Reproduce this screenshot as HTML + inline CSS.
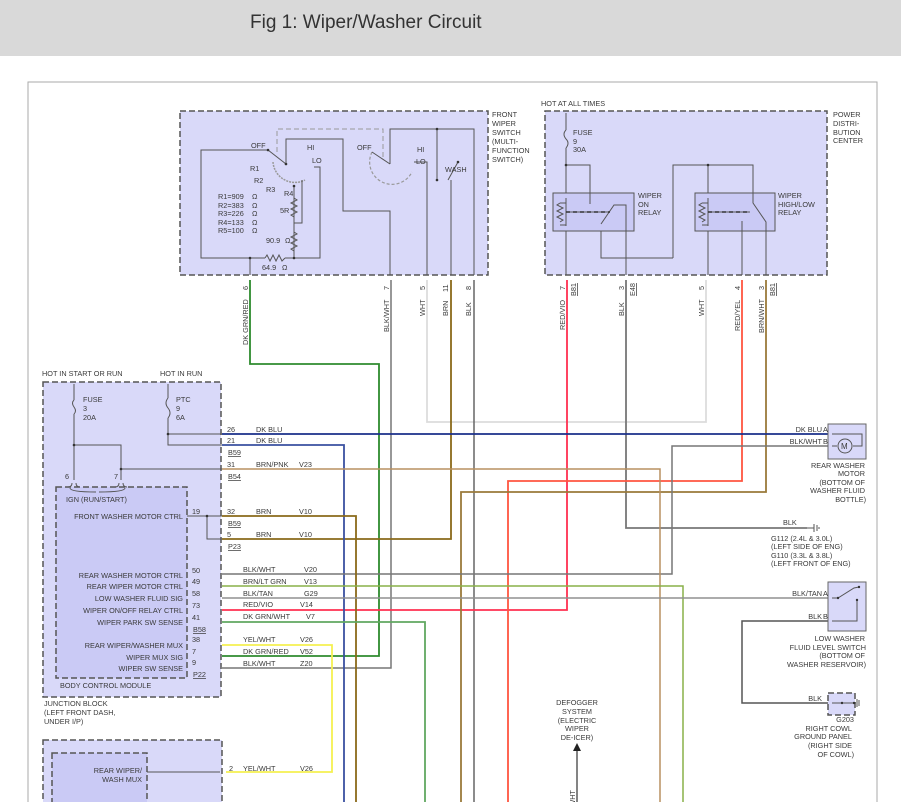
<!DOCTYPE html>
<html><head><meta charset="utf-8"><style>
html,body{margin:0;padding:0;background:#fff;}
svg{display:block;}
text{font-family:"Liberation Sans",sans-serif;font-size:7.3px;fill:#3a3a3a;}
.t{font-size:19px;fill:#333;}
.box{fill:#d9d9f9;stroke:#555;stroke-width:1.5;stroke-dasharray:6,3;}
.ibox{fill:#cacaf5;stroke:#555;stroke-width:1.5;stroke-dasharray:6,3;}
.rel{fill:#cacaf5;stroke:#555;stroke-width:1;}
.w{fill:none;stroke:#555;stroke-width:1;}
.r{text-anchor:end;}
.u{text-decoration:underline;}
</style></head><body>
<svg width="901" height="802" viewBox="0 0 901 802" xmlns="http://www.w3.org/2000/svg">
<rect x="0" y="0" width="901" height="56" fill="#d9d9d9"/>
<text class="t" x="250" y="28">Fig 1: Wiper/Washer Circuit</text>
<rect x="28" y="82" width="849" height="740" fill="#fff" stroke="#aaa" stroke-width="1"/>

<!-- FRONT WIPER SWITCH -->
<rect class="box" x="180" y="111" width="308" height="164"/>
<text x="492" y="117">FRONT</text><text x="492" y="126">WIPER</text><text x="492" y="135">SWITCH</text><text x="492" y="144">(MULTI-</text><text x="492" y="153">FUNCTION</text><text x="492" y="162">SWITCH)</text>
<path d="M277 152 V129 H383 V158" fill="none" stroke="#999" stroke-width="1" stroke-dasharray="5,3"/>
<path class="w" d="M268 150 H201 V258 H265 M285 258 H320 V167 H314"/>
<path class="w" d="M265 258 l2 -3 l3 6 l3 -6 l3 6 l3 -6 l3 6 l3 -3"/>
<path class="w" d="M268 150 L286 164 M286 164 V139 H343 V211 H390 V275"/>
<path d="M273 162 A22 22 0 0 0 305 180" fill="none" stroke="#999" stroke-width="1.5" stroke-dasharray="2,1"/>
<path class="w" d="M294 186 V228 M302 180 V223 H294 M294 228 V250 M294 258 V250"/>
<path class="w" d="M294 198 l3 2 l-6 3 l6 3 l-6 3 l6 3 l-6 3 l3 2 M294 232 l3 2 l-6 3 l6 3 l-6 3 l6 3 l-6 3 l3 2"/>
<path class="w" d="M250 258 V275"/>
<circle cx="268" cy="150" r="1.3" fill="#333"/><circle cx="286" cy="164" r="1.3" fill="#333"/><circle cx="250" cy="258" r="1.3" fill="#333"/><circle cx="294" cy="258" r="1.3" fill="#333"/><circle cx="294" cy="186" r="1.3" fill="#333"/>
<text x="251" y="148">OFF</text><text x="307" y="150">HI</text><text x="312" y="163">LO</text>
<text x="250" y="171">R1</text><text x="254" y="183">R2</text><text x="266" y="192">R3</text><text x="284" y="196">R4</text><text x="280" y="213">5R</text>
<text x="218" y="199">R1=909</text><text x="218" y="208">R2=383</text><text x="218" y="216">R3=226</text><text x="218" y="225">R4=133</text><text x="218" y="233">R5=100</text>
<text x="252" y="199" fill="#999">Ω</text><text x="252" y="208" fill="#999">Ω</text><text x="252" y="216" fill="#999">Ω</text><text x="252" y="225" fill="#999">Ω</text><text x="252" y="233" fill="#999">Ω</text>
<text x="266" y="243">90.9</text><text x="285" y="243" fill="#999">Ω</text><text x="262" y="270">64.9</text><text x="282" y="270" fill="#999">Ω</text>
<path d="M372 152 A22 22 0 0 0 412 172" fill="none" stroke="#999" stroke-width="1.2" stroke-dasharray="3,2"/>
<path class="w" d="M372 152 L390 164 M390 164 V129 H474 V275 M437 129 V180 M448 180 L458 162 M451 180 V275 M414 162 H427 V275"/>
<circle cx="437" cy="180" r="1.3" fill="#333"/><circle cx="458" cy="162" r="1.3" fill="#333"/><circle cx="437" cy="129" r="1.3" fill="#333"/>
<text x="357" y="150">OFF</text><text x="417" y="152">HI</text><text x="416" y="164">LO</text><text x="445" y="172">WASH</text>

<!-- PDC -->
<text x="541" y="106">HOT AT ALL TIMES</text>
<rect class="box" x="545" y="111" width="282" height="164"/>
<text x="833" y="117">POWER</text><text x="833" y="126">DISTRI-</text><text x="833" y="135">BUTION</text><text x="833" y="143">CENTER</text>
<text x="573" y="135">FUSE</text><text x="573" y="144">9</text><text x="573" y="152">30A</text>
<path class="w" d="M566 113 V130 M566 148 V193 M566 165 H590 V193 M673 258 V165 H753 V193 M708 165 V193 M673 258 H601 V231"/>
<path class="w" d="M566 130 q-4 4 0 9 q4 4 0 9"/>
<rect class="rel" x="553" y="193" width="81" height="38"/><rect class="rel" x="695" y="193" width="80" height="38"/>
<text x="638" y="198">WIPER</text><text x="638" y="207">ON</text><text x="638" y="215">RELAY</text>
<text x="778" y="198">WIPER</text><text x="778" y="207">HIGH/LOW</text><text x="778" y="215">RELAY</text>
<path class="w" d="M566 198 V226 M560 203 h6 M560 225 h6 M560 203 l-3 2 l6 3 l-6 3 l6 3 l-6 3 l6 3 l-3 2 M566 212 H610 M590 193 V204 M601 224 L614 205 H626 V275 M566 231 V275"/>
<path class="w" d="M708 198 V226 M702 203 h6 M702 225 h6 M702 203 l-3 2 l6 3 l-6 3 l6 3 l-6 3 l6 3 l-3 2 M708 212 H750 M753 193 V203 L766 222 V275 M742 221 V275 M708 231 V275"/>
<path d="M566 212 H610 M708 212 H750" stroke="#333" stroke-width="1.5" stroke-dasharray="4,3"/>
<circle cx="566" cy="165" r="1.3" fill="#333"/><circle cx="708" cy="165" r="1.3" fill="#333"/>

<!-- wires below switch -->
<path d="M250 280 V364 H379 V656 H222" fill="none" stroke="#2e8b2e" stroke-width="1.8"/>
<path d="M391 280 V668 H222" fill="none" stroke="#777" stroke-width="1.5"/>
<path d="M427 280 V422 H706 V280" fill="none" stroke="#dcdcdc" stroke-width="1.8"/>
<path d="M451 280 V539 H222" fill="none" stroke="#8a6a1a" stroke-width="1.8"/>
<path d="M474 280 V802" fill="none" stroke="#666" stroke-width="1.5"/>
<path d="M567 280 V610 H222" fill="none" stroke="#ff3050" stroke-width="1.8"/>
<path d="M626 280 V528 H807" fill="none" stroke="#777" stroke-width="1.8"/>
<path d="M742 280 V481 H508 V802" fill="none" stroke="#ff5540" stroke-width="1.8"/>
<path d="M766 280 V492 H461 V802" fill="none" stroke="#9a7a3a" stroke-width="1.8"/>
<path d="M222 434 H832" fill="none" stroke="#1a2f8a" stroke-width="1.8"/>
<path d="M222 445 H344 V802" fill="none" stroke="#3a50a0" stroke-width="1.8"/>
<path d="M832 446 H672 V574 H222" fill="none" stroke="#777" stroke-width="1.5"/>
<path d="M222 469 H660 V802" fill="none" stroke="#b89060" stroke-width="1.5"/>
<path d="M222 516 H356 V802" fill="none" stroke="#8a6a1a" stroke-width="1.8"/>
<path d="M222 586 H683 V802" fill="none" stroke="#88b048" stroke-width="1.5"/>
<path d="M222 598 H832" fill="none" stroke="#909090" stroke-width="1.5"/>
<path d="M222 622 H425 V802" fill="none" stroke="#60a860" stroke-width="1.8"/>
<path d="M222 645 H332 V772 H226" fill="none" stroke="#f5f050" stroke-width="1.8"/>
<path d="M832 621 H742 V703 H832" fill="none" stroke="#555" stroke-width="1.5"/>

<!-- wire labels vertical -->
<g>
<text transform="translate(248,345) rotate(-90)">DK GRN/RED</text><text transform="translate(248,290) rotate(-90)">6</text>
<text transform="translate(389,332) rotate(-90)">BLK/WHT</text><text transform="translate(389,290) rotate(-90)">7</text>
<text transform="translate(425,316) rotate(-90)">WHT</text><text transform="translate(425,290) rotate(-90)">5</text>
<text transform="translate(448,316) rotate(-90)">BRN</text><text transform="translate(448,292) rotate(-90)">11</text>
<text transform="translate(471,316) rotate(-90)">BLK</text><text transform="translate(471,290) rotate(-90)">8</text>
<text transform="translate(565,330) rotate(-90)">RED/VIO</text><text transform="translate(565,290) rotate(-90)">7</text><text class="u" transform="translate(576,296) rotate(-90)">B81</text>
<text transform="translate(624,316) rotate(-90)">BLK</text><text transform="translate(624,290) rotate(-90)">3</text><text class="u" transform="translate(635,296) rotate(-90)">E48</text>
<text transform="translate(704,316) rotate(-90)">WHT</text><text transform="translate(704,290) rotate(-90)">5</text>
<text transform="translate(740,331) rotate(-90)">RED/YEL</text><text transform="translate(740,290) rotate(-90)">4</text>
<text transform="translate(764,333) rotate(-90)">BRN/WHT</text><text transform="translate(764,290) rotate(-90)">3</text><text class="u" transform="translate(775,296) rotate(-90)">B81</text>
</g>

<!-- Junction block -->
<text x="42" y="376">HOT IN START OR RUN</text><text x="160" y="376">HOT IN RUN</text>
<rect class="box" x="43" y="382" width="178" height="315"/>
<rect class="ibox" x="56" y="487" width="131" height="191"/>
<path class="w" d="M74 384 V400 M74 414 V480 M74 445 H121 V480 M121 469 H222 M168 384 V398 M168 418 V445 H222 M168 434 H222 M187 516 H222 M207 516 V539 H222"/>
<path class="w" d="M74 400 q-3 3 0 7 q3 4 0 7 M168 398 q-4 5 0 10 q4 5 0 10"/>
<path class="w" d="M72 483 q0 4 -4 4 M76 483 q0 4 4 4 M119 483 q0 4 -4 4 M123 483 q0 4 4 4 M70 488 q0 4 26 4 M125 488 q0 4 -26 4"/>
<circle cx="74" cy="445" r="1.3" fill="#333"/><circle cx="121" cy="469" r="1.3" fill="#333"/><circle cx="168" cy="434" r="1.3" fill="#333"/><circle cx="207" cy="516" r="1.3" fill="#333"/>
<text x="83" y="402">FUSE</text><text x="83" y="411">3</text><text x="83" y="420">20A</text>
<text x="176" y="402">PTC</text><text x="176" y="411">9</text><text x="176" y="420">6A</text>
<text x="65" y="479">6</text><text x="114" y="479">7</text>
<text x="66" y="502">IGN (RUN/START)</text>
<text class="r" x="183" y="519">FRONT WASHER MOTOR CTRL</text>
<text class="r" x="183" y="578">REAR WASHER MOTOR CTRL</text>
<text class="r" x="183" y="589">REAR WIPER MOTOR CTRL</text>
<text class="r" x="183" y="601">LOW WASHER FLUID SIG</text>
<text class="r" x="183" y="613">WIPER ON/OFF RELAY CTRL</text>
<text class="r" x="183" y="625">WIPER PARK SW SENSE</text>
<text class="r" x="183" y="648">REAR WIPER/WASHER MUX</text>
<text class="r" x="183" y="660">WIPER MUX SIG</text>
<text class="r" x="183" y="671">WIPER SW SENSE</text>
<text x="60" y="688">BODY CONTROL MODULE</text>
<text x="192" y="514">19</text>
<text x="192" y="573">50</text><text x="192" y="584">49</text><text x="192" y="596">58</text><text x="192" y="608">73</text><text x="192" y="620">41</text>
<text class="u" x="193" y="632">B58</text>
<text x="192" y="642">38</text><text x="192" y="654">7</text><text x="192" y="665">9</text><text class="u" x="193" y="677">P22</text>
<text x="227" y="432">26</text><text x="256" y="432">DK BLU</text>
<text x="227" y="443">21</text><text x="256" y="443">DK BLU</text><text class="u" x="228" y="455">B59</text>
<text x="227" y="467">31</text><text x="256" y="467">BRN/PNK</text><text x="299" y="467">V23</text><text class="u" x="228" y="479">B54</text>
<text x="227" y="514">32</text><text x="256" y="514">BRN</text><text x="299" y="514">V10</text><text class="u" x="228" y="526">B59</text>
<text x="227" y="537">5</text><text x="256" y="537">BRN</text><text x="299" y="537">V10</text><text class="u" x="228" y="549">P23</text>
<text x="243" y="572">BLK/WHT</text><text x="304" y="572">V20</text>
<text x="243" y="584">BRN/LT GRN</text><text x="304" y="584">V13</text>
<text x="243" y="596">BLK/TAN</text><text x="304" y="596">G29</text>
<text x="243" y="607">RED/VIO</text><text x="300" y="607">V14</text>
<text x="243" y="619">DK GRN/WHT</text><text x="306" y="619">V7</text>
<text x="243" y="642">YEL/WHT</text><text x="300" y="642">V26</text>
<text x="243" y="654">DK GRN/RED</text><text x="300" y="654">V52</text>
<text x="243" y="666">BLK/WHT</text><text x="300" y="666">Z20</text>
<text x="44" y="706">JUNCTION BLOCK</text><text x="44" y="715">(LEFT FRONT DASH,</text><text x="44" y="724">UNDER I/P)</text>

<rect class="box" x="43" y="740" width="179" height="80"/>
<rect class="ibox" x="52" y="753" width="95" height="70"/>
<text class="r" x="142" y="773">REAR WIPER/</text><text class="r" x="142" y="782">WASH MUX</text>
<path class="w" d="M147 772 H220"/>
<text x="229" y="771">2</text><text x="243" y="771">YEL/WHT</text><text x="300" y="771">V26</text>

<!-- defogger -->
<text x="577" y="705" text-anchor="middle">DEFOGGER</text><text x="577" y="714" text-anchor="middle">SYSTEM</text><text x="577" y="723" text-anchor="middle">(ELECTRIC</text><text x="577" y="731" text-anchor="middle">WIPER</text><text x="577" y="740" text-anchor="middle">DE-ICER)</text>
<path d="M577 750 V802" stroke="#777" stroke-width="1.8"/><path d="M573 751 L577 743 L581 751 Z" fill="#222"/>
<text transform="translate(575,790) rotate(-90)" class="r">BLK/WHT</text>

<!-- right components -->
<rect x="828" y="424" width="38" height="35" fill="#d9d9f9" stroke="#666" stroke-width="1"/>
<path class="w" d="M832 434 H862 V446 H853 M832 446 H837"/>
<circle cx="845" cy="446" r="7" fill="none" stroke="#555"/><text x="841" y="449" style="font-size:8px">M</text>
<text class="r" x="822" y="432">DK BLU</text><text x="823" y="432">A</text>
<text class="r" x="822" y="444">BLK/WHT</text><text x="823" y="444">B</text>
<text class="r" x="865" y="468">REAR WASHER</text><text class="r" x="865" y="476">MOTOR</text><text class="r" x="865" y="485">(BOTTOM OF</text><text class="r" x="865" y="493">WASHER FLUID</text><text class="r" x="866" y="502">BOTTLE)</text>
<text x="783" y="525">BLK</text>
<path class="w" d="M807 528 h7 M814 524 v8 M817 525 v6 M819 527 v2"/>
<text x="771" y="541">G112   (2.4L &amp; 3.0L)</text><text x="771" y="549">(LEFT SIDE OF ENG)</text><text x="771" y="558">G110   (3.3L &amp; 3.8L)</text><text x="771" y="566">(LEFT FRONT OF ENG)</text>
<rect x="828" y="582" width="38" height="49" fill="#d9d9f9" stroke="#666" stroke-width="1"/>
<path class="w" d="M832 598 H838 L854 588 L859 587 M832 621 H857 V600"/>
<circle cx="838" cy="598" r="1.2" fill="#333"/><circle cx="859" cy="587" r="1.2" fill="#333"/><circle cx="857" cy="600" r="1.2" fill="#333"/>
<text class="r" x="822" y="596">BLK/TAN</text><text x="823" y="596">A</text>
<text class="r" x="822" y="619">BLK</text><text x="823" y="619">B</text>
<text class="r" x="865" y="641">LOW WASHER</text><text class="r" x="866" y="650">FLUID LEVEL SWITCH</text><text class="r" x="865" y="658">(BOTTOM OF</text><text class="r" x="866" y="667">WASHER RESERVOIR)</text>
<rect class="box" x="828" y="693" width="27" height="22"/>
<path class="w" d="M832 703 H856 M857 699 v8 M859 700 v6"/>
<circle cx="842" cy="703" r="1.2" fill="#333"/><circle cx="854" cy="703" r="1.2" fill="#333"/>
<text class="r" x="822" y="701">BLK</text>
<text class="r" x="854" y="722">G203</text><text class="r" x="852" y="731">RIGHT COWL</text><text class="r" x="852" y="739">GROUND PANEL</text><text class="r" x="852" y="748">(RIGHT SIDE</text><text class="r" x="854" y="757">OF COWL)</text>
</svg>
</body></html>
